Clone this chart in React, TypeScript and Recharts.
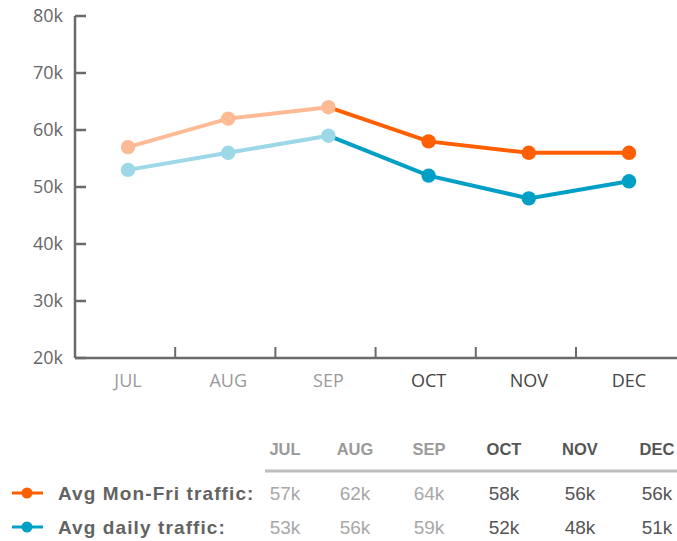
import React from "react";
import { LineChart, Line, XAxis, YAxis } from "recharts";

const months = ["JUL", "AUG", "SEP", "OCT", "NOV", "DEC"];
const monFriTraffic = [57000, 62000, 64000, 58000, 56000, 56000];
const dailyTraffic = [53000, 56000, 59000, 52000, 48000, 51000];
const yTicks = [20000, 30000, 40000, 50000, 60000, 70000, 80000];
const seriesLabels = ["Avg Mon-Fri traffic:", "Avg daily traffic:"];
const currentFrom = 3; // first month drawn in full colour

const ORANGE = "#ff5f00";
const ORANGE_LIGHT = "#fdba94";
const BLUE = "#00a0c6";
const BLUE_LIGHT = "#9dd8e8";
const AXIS = "#6a6a6a";

const data = months.map((m, i) => ({
  month: m,
  monFriPast: i <= currentFrom - 1 ? monFriTraffic[i] : null,
  monFriNow: i >= currentFrom - 1 ? monFriTraffic[i] : null,
  dailyPast: i <= currentFrom - 1 ? dailyTraffic[i] : null,
  dailyNow: i >= currentFrom - 1 ? dailyTraffic[i] : null,
}));

const fmtK = (v: number) => `${Math.round(v / 1000)}k`;

const makeDot = (color: string, key: string, from: number) => (props: any) => {
  const { cx, cy, index, payload } = props;
  if (cx == null || cy == null || index < from || payload[key] == null) {
    return <g key={`dot-${key}-${index}`} />;
  }
  return <circle key={`dot-${key}-${index}`} cx={cx} cy={cy} r={7.2} fill={color} stroke="none" />;
};

const YTick = (props: any) => {
  const { x, y, payload } = props;
  return (
    <g>
      <line x1={x} x2={x + 11} y1={y} y2={y} stroke={AXIS} strokeWidth={2.5} />
      <text x={x - 12} y={y} dy="0.36em" textAnchor="end" fill="#666" fontSize={18} fontFamily="'Open Sans', sans-serif">
        {fmtK(payload.value)}
      </text>
    </g>
  );
};

const XTick = (props: any) => {
  const { x, y, payload, index } = props;
  const dark = index >= currentFrom;
  return (
    <g>
      {index > 0 && <line x1={x - 53} x2={x - 53} y1={y} y2={y - 11} stroke={AXIS} strokeWidth={2} />}
      <text x={x} y={y + 29} textAnchor="middle" fill={dark ? "#444" : "#9a9a9a"} fontSize={18} fontFamily="'Open Sans', sans-serif">
        {payload.value}
      </text>
    </g>
  );
};

const colCenters = [285, 355, 429, 504, 580, 657];

export default function App() {
  const rows = [
    { label: seriesLabels[0], values: monFriTraffic, color: ORANGE },
    { label: seriesLabels[1], values: dailyTraffic, color: BLUE },
  ];
  return (
    <div style={{ position: "absolute", left: 0, top: 0, width: 677, height: 541, background: "#fff" }}>
      <LineChart width={677} height={400} data={data} margin={{ top: 16, right: 0, bottom: 0, left: 0 }}>
        <YAxis
          width={75}
          domain={[20000, 80000]}
          ticks={yTicks}
          type="number"
          tickSize={0}
          tickMargin={0}
          tickLine={false}
          axisLine={{ stroke: AXIS, strokeWidth: 2.5 }}
          tick={<YTick />}
          interval={0}
        />
        <XAxis
          dataKey="month"
          height={42}
          padding={{ left: 53, right: 48 }}
          tickSize={0}
          tickMargin={0}
          tickLine={false}
          axisLine={{ stroke: AXIS, strokeWidth: 2.5 }}
          tick={<XTick />}
          interval={0}
        />
        <Line dataKey="monFriNow" stroke={ORANGE} strokeWidth={4} dot={makeDot(ORANGE, "monFriNow", currentFrom)} activeDot={false} isAnimationActive={false} connectNulls={false} />
        <Line dataKey="dailyNow" stroke={BLUE} strokeWidth={4} dot={makeDot(BLUE, "dailyNow", currentFrom)} activeDot={false} isAnimationActive={false} connectNulls={false} />
        <Line dataKey="monFriPast" stroke={ORANGE_LIGHT} strokeWidth={4} dot={makeDot(ORANGE_LIGHT, "monFriPast", 0)} activeDot={false} isAnimationActive={false} connectNulls={false} />
        <Line dataKey="dailyPast" stroke={BLUE_LIGHT} strokeWidth={4} dot={makeDot(BLUE_LIGHT, "dailyPast", 0)} activeDot={false} isAnimationActive={false} connectNulls={false} />
      </LineChart>
      <svg width={677} height={141} style={{ position: "absolute", left: 0, top: 400 }}>
        <g transform="translate(0,-400)" fontFamily="'Liberation Sans', Arial, sans-serif">
          {months.map((m, i) => (
            <text key={`h-${m}`} x={colCenters[i]} y={455} textAnchor="middle" fontSize={16.5} fontWeight="bold" fill={i >= currentFrom ? "#555" : "#9a9a9a"}>
              {m}
            </text>
          ))}
          <line x1={265} x2={677} y1={471} y2={471} stroke="#bdbdbd" strokeWidth={3} />
          {rows.map((r, ri) => {
            const cy = 493 + ri * 34;
            return (
              <g key={`row-${ri}`}>
                <line x1={12} x2={43} y1={cy} y2={cy} stroke={r.color} strokeWidth={3} />
                <circle cx={27} cy={cy} r={5.5} fill={r.color} />
                <text x={58} y={cy + 6.5} fontSize={19} fontWeight="bold" fill="#636363" letterSpacing={1.1}>
                  {r.label}
                </text>
                {r.values.map((v, i) => (
                  <text key={`v-${ri}-${i}`} x={colCenters[i]} y={cy + 6.5} textAnchor="middle" fontSize={19} fill={i >= currentFrom ? "#555" : "#a8a8a8"}>
                    {fmtK(v)}
                  </text>
                ))}
              </g>
            );
          })}
        </g>
      </svg>
    </div>
  );
}
